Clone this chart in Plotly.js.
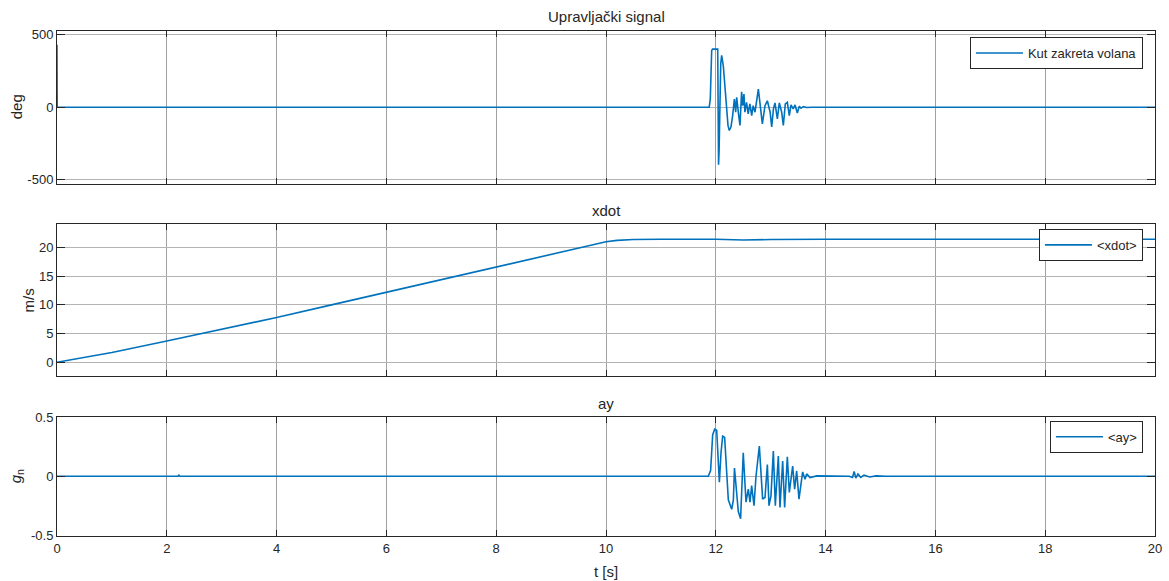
<!DOCTYPE html>
<html>
<head>
<meta charset="utf-8">
<script src="https://cdn.plot.ly/plotly-3.0.1.min.js"></script>
<style>html,body{margin:0;padding:0;background:#fff;}#chart{width:1169px;height:581px;}</style>
</head>
<body>
<div id="chart"></div>
<script>
// ---- Data ----
const steerT = [0, 0.004, 11.88, 11.90, 11.925, 11.94, 12.035, 12.05, 12.06, 12.09, 12.107, 12.137, 12.168, 12.198, 12.222, 12.246, 12.276, 12.307, 12.338, 12.362, 12.38, 12.41, 12.44, 12.47, 12.49, 12.513, 12.53, 12.56, 12.59, 12.62, 12.654, 12.68, 12.714, 12.775, 12.817, 12.848, 12.896, 12.939, 12.99, 13.018, 13.05, 13.078, 13.121, 13.157, 13.2, 13.23, 13.266, 13.303, 13.339, 13.37, 13.41, 13.443, 13.485, 13.521, 13.552, 13.594, 13.655, 13.75, 20];
const steerV = [430, 0, 0, 60, 390, 400, 400, -395, -300, 300, 358, 284, 148, -11, -125, -160, -136, -57, 57, -34, 68, -34, -125, 107, 11, 91, -34, 34, -45, 23, -57, 11, -34, 125, -11, -114, 11, 45, -34, -136, -11, 30, -80, 30, -34, -125, 23, 34, -57, 16, -11, 16, -39, 7, -7, 5, -2, 0, 0];

const xdotT = [0, 1, 2, 3, 4, 5, 6, 7, 8, 9, 10, 10.2, 10.5, 11, 12, 12.5, 13, 14, 16, 18, 20];
const xdotV = [0, 1.7, 3.7, 5.7, 7.8, 10.0, 12.2, 14.4, 16.6, 18.8, 21.0, 21.25, 21.4, 21.45, 21.45, 21.3, 21.4, 21.45, 21.45, 21.45, 21.45];

const ayT = [0, 2.2, 2.22, 2.24, 11.864, 11.906, 11.943, 11.979, 12.016, 12.045, 12.065, 12.095, 12.125, 12.161, 12.195, 12.228, 12.29, 12.32, 12.34, 12.362, 12.41, 12.452, 12.5, 12.55, 12.592, 12.623, 12.653, 12.696, 12.732, 12.793, 12.853, 12.896, 12.939, 12.969, 13.005, 13.048, 13.084, 13.139, 13.169, 13.218, 13.254, 13.303, 13.339, 13.4, 13.436, 13.473, 13.515, 13.582, 13.625, 13.655, 13.716, 13.837, 14.43, 14.49, 14.52, 14.55, 14.59, 14.64, 14.7, 14.8, 14.92, 15.1, 20];
const ayV = [0, 0, 0.01, 0, 0, 0.05, 0.35, 0.40, 0.39, 0.15, -0.05, 0.2, 0.34, 0.33, 0.05, -0.2, -0.28, -0.2, 0.07, -0.05, -0.30, -0.36, 0.20, -0.22, -0.11, -0.22, -0.08, -0.25, 0.0, 0.256, -0.194, -0.18, 0.10, -0.25, -0.166, 0.214, -0.25, 0.171, -0.264, 0.129, -0.264, 0.166, -0.138, 0.087, -0.11, 0.045, -0.194, 0.037, -0.025, 0.02, -0.011, 0.003, 0, -0.01, 0.04, -0.015, 0.02, -0.01, 0.01, -0.006, 0.003, 0, 0];

const xTicks = [0, 2, 4, 6, 8, 10, 12, 14, 16, 18, 20];
const steerTicks = [-500, 0, 500];
const steerTickText = ["-500", "0", "500"];
const xdotTicks = [0, 5, 10, 15, 20];
const ayTicks = [-0.5, 0, 0.5];
const ayTickText = ["-0.5", "0", "0.5"];

const titles = ["Upravljački signal", "xdot", "ay"];
const yTitles = ["deg", "m/s", "<i>g</i><sub>n</sub>"];
const legendNames = ["Kut zakreta volana", "&lt;xdot&gt;", "&lt;ay&gt;"];

// ---- Styling ----
const FONT = "Arial, 'Liberation Sans', Helvetica, sans-serif";
const TXT = "#262626";
const LINE = "#0072BD";

function xax(show) {
  return {
    range: [0, 20], tickvals: xTicks, ticktext: xTicks.map(String),
    showticklabels: show, showgrid: true, gridcolor: "#a0a0a0", gridwidth: 1,
    ticks: "inside", ticklen: 6, tickcolor: TXT, showline: true, linecolor: TXT,
    linewidth: 1, mirror: "ticks", zeroline: false,
    tickfont: {family: FONT, size: 13, color: TXT}
  };
}
function yax(dom, range, vals, text, anchor) {
  return {
    domain: dom, range: range, tickvals: vals, ticktext: text, anchor: anchor,
    showgrid: true, gridcolor: "#b4b4b4", gridwidth: 1,
    ticks: "inside", ticklen: 8, tickcolor: TXT, showline: true, linecolor: TXT,
    linewidth: 1, mirror: "ticks", zeroline: false,
    tickfont: {family: FONT, size: 13, color: TXT}
  };
}

const traces = [
  {x: steerT, y: steerV, xaxis: "x2", yaxis: "y", type: "scatter", mode: "lines",
   name: legendNames[0], legend: "legend", line: {color: LINE, width: 1.6}},
  {x: xdotT, y: xdotV, xaxis: "x3", yaxis: "y2", type: "scatter", mode: "lines",
   name: legendNames[1], legend: "legend2", line: {color: LINE, width: 1.6}},
  {x: ayT, y: ayV, xaxis: "x", yaxis: "y3", type: "scatter", mode: "lines",
   name: legendNames[2], legend: "legend3", line: {color: LINE, width: 1.6}}
];

function leg(y) {
  return {x: 0.989, y: y, xanchor: "right", yanchor: "top", bgcolor: "#ffffff",
    bordercolor: TXT, borderwidth: 1, font: {family: FONT, size: 13, color: TXT},
    itemwidth: 47, tracegroupgap: 0};
}

const ann = [];
const titleY = [1.028, 0.6436, 0.2614];
titles.forEach((t, i) => ann.push({text: t, xref: "paper", yref: "paper", x: 0.5, y: titleY[i],
  xanchor: "center", yanchor: "middle", showarrow: false, font: {family: FONT, size: 15, color: TXT}}));
const yTitleX = [-0.0373, -0.026, -0.0373];
const yTitleY = [0.849, 0.4673, 0.1183];
yTitles.forEach((t, i) => ann.push({text: t, xref: "paper", yref: "paper", x: yTitleX[i], y: yTitleY[i],
  xanchor: "center", yanchor: "middle", textangle: -90, showarrow: false, font: {family: FONT, size: 15, color: TXT}}));
ann.push({text: "t [s]", xref: "paper", yref: "paper", x: 0.5, y: -0.0705, xanchor: "center", yanchor: "middle",
  showarrow: false, font: {family: FONT, size: 15, color: TXT}});

const layout = {
  width: 1169, height: 581,
  margin: {l: 57, r: 14, t: 31, b: 45},
  paper_bgcolor: "#ffffff", plot_bgcolor: "#ffffff",
  showlegend: true,
  xaxis: Object.assign(xax(true), {anchor: "y3"}),
  xaxis2: Object.assign(xax(false), {anchor: "y", matches: "x"}),
  xaxis3: Object.assign(xax(false), {anchor: "y2", matches: "x"}),
  yaxis: yax([0.698, 1.0], [-525, 525], steerTicks, steerTickText, "x2"),
  yaxis2: yax([0.3168, 0.6178], [-2.4, 24.1], xdotTicks, xdotTicks.map(String), "x3"),
  yaxis3: yax([0, 0.2366], [-0.507, 0.507], ayTicks, ayTickText, "x"),
  legend: leg(0.988),
  legend2: leg(0.608),
  legend3: leg(0.228),
  annotations: ann
};

Plotly.newPlot("chart", traces, layout, {displayModeBar: false, staticPlot: true});
</script>
</body>
</html>
